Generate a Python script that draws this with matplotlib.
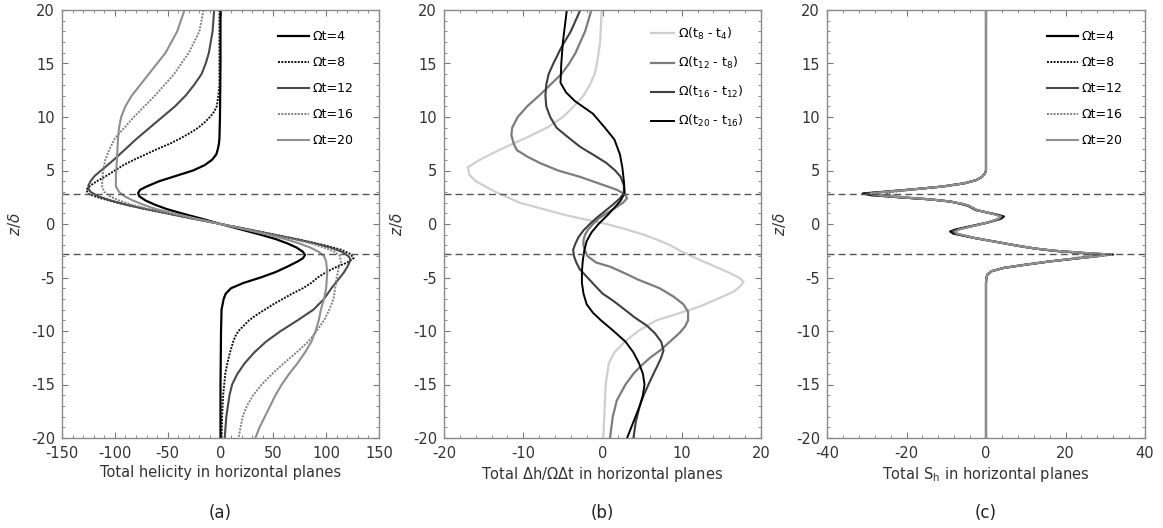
import matplotlib
matplotlib.use('Agg')
import matplotlib.pyplot as plt
from matplotlib.ticker import MultipleLocator

# ---------------- panel (a): total helicity ----------------
z_a4 = [20, 15, 10, 8, 7.5, 7, 6.5, 6, 5.5, 5, 4.5, 4, 3.5, 3.2, 2.9, 2.6, 2.2, 1.8, 1.4, 1.0, 0.5, 0,
        -0.5, -1.0, -1.4, -1.8, -2.2, -2.6, -2.9, -3.2, -3.5, -4, -4.5, -5, -5.5, -6, -6.5, -7, -7.5, -8, -10, -15, -20]
h_a4 = [0, 0, -0.5, -1, -1.5, -2.5, -4, -8, -15, -26, -42, -58, -70, -76, -78, -77, -71, -62, -51, -37, -18, 0,
        19, 38, 52, 63, 72, 78, 80, 78, 73, 63, 52, 38, 22, 10, 5, 3, 2, 1, 0.5, 0, 0]

z_a8 = [20, 16, 13, 12, 11, 10.5, 10, 9.5, 9, 8.5, 8, 7.5, 7, 6.5, 6, 5.5, 5, 4.5, 4, 3.6, 3.2, 2.8, 2.4, 2.0, 1.5, 1.0, 0.5, 0,
        -0.5, -1.0, -1.5, -2.0, -2.4, -2.8, -3.2, -3.6, -4, -4.5, -5, -5.5, -6, -6.5, -7, -7.5, -8, -8.5, -9, -9.5, -10,
        -10.5, -11, -12, -13, -14, -16, -18, -20]
h_a8 = [-1, -1, -1, -2, -3.5, -6, -10, -15, -21, -29, -38, -48, -60, -71, -82, -92, -100, -108, -117, -123, -127, -125, -113, -98, -76, -51, -26, 0,
        26, 51, 76, 99, 114, 123, 126, 120, 110, 100, 92, 86, 78, 68, 59, 50, 42, 34, 27, 22, 17,
        14, 12, 9, 6.5, 4.5, 2.5, 1.5, 1]

z_a12 = [20, 18, 16, 15, 14, 13, 12, 11, 10, 9, 8, 7, 6, 5, 4.5, 4, 3.6, 3.3, 3.0, 2.6, 2.2, 1.8, 1.4, 1.0, 0.5, 0,
         -0.5, -1.0, -1.4, -1.8, -2.2, -2.6, -3.0, -3.3, -3.6, -4, -4.5, -5, -6, -7, -8, -9, -10, -11, -12, -13, -14,
         -15, -16, -17, -18, -20]
h_a12 = [-6, -7.5, -11, -14, -18, -25, -33, -43, -55, -67, -79, -90, -101, -113, -119, -123, -125, -125, -123, -116, -104, -89, -71, -51, -26, 0,
         26, 51, 71, 89, 104, 115, 121, 123, 122, 120, 117, 113, 105, 98, 88, 73, 57, 43, 32, 23, 16,
         11, 8.5, 7, 5.5, 4]

z_a16 = [20, 18, 16, 14, 12, 10, 8, 7, 6, 5, 4, 3.5, 3.0, 2.6, 2.2, 1.8, 1.4, 1.0, 0.5, 0,
         -0.5, -1.0, -1.4, -1.8, -2.2, -2.6, -3.0, -3.5, -4, -5, -6, -7, -8, -9, -10, -11, -12, -13, -14, -15,
         -16, -17, -18, -20]
h_a16 = [-16, -20, -30, -44, -62, -82, -100, -105, -109, -111, -112, -112, -110, -105, -96, -84, -68, -49, -25, 0,
         25, 49, 68, 85, 98, 108, 113, 114, 112, 110, 108.5, 107, 103, 98, 91, 83, 72, 60, 49, 39,
         31, 25, 21, 17]

z_a20 = [20, 18, 16, 14, 13, 12, 11, 10, 9, 8, 6, 4.5, 3.5, 3.0, 2.6, 2.2, 1.8, 1.4, 1.0, 0.5, 0,
         -0.5, -1.0, -1.4, -1.8, -2.2, -2.6, -3.0, -3.5, -4.5, -6, -7, -8, -9, -10, -11, -12, -13, -14, -15,
         -16, -17, -18, -19, -20]
h_a20 = [-34, -41, -52, -68, -76, -84, -90, -94, -96, -97, -98, -99, -99, -96, -91, -83, -73, -61, -45, -23, 0,
         23, 45, 61, 74, 85, 93, 98, 100, 101, 100, 98, 95, 93, 90, 86, 80, 73, 65, 58,
         52, 47, 42, 37, 33]

# ---------------- panel (b): helicity change rate ----------------
z_b1 = [20, 17, 15, 14, 13, 12, 11, 10, 9, 8, 7, 6, 5.3, 4.6, 4.0, 3.0, 2.0, 1.3, 0.8, 0.4, 0,
        -0.5, -1.0, -1.5, -2.0, -2.5, -3.0, -3.5, -4.0, -4.5, -5.0, -5.4, -5.8, -6.3, -7.0, -7.7, -8.5, -9.0,
        -10, -11, -12, -13, -15, -20]
d_b1 = [-0.1, -0.3, -0.7, -1.0, -1.6, -2.4, -3.6, -5.0, -7.0, -9.8, -12.8, -15.5, -17.0, -16.8, -16.0, -13.5, -10.5, -7.0, -4.5, -2.0, 0.5,
        3.0, 5.2, 7.0, 8.6, 9.8, 11.2, 12.7, 14.3, 15.8, 17.2, 17.8, 17.4, 16.6, 14.5, 12.3, 9.0, 6.8,
        4.5, 2.8, 1.5, 0.8, 0.4, 0.1]

z_b2 = [20, 18, 16, 15, 14, 13, 12, 11, 10, 9, 8.3, 7.5, 6.9, 6.3, 5.7, 5, 4.4, 3.8, 3.2, 2.8, 2.4, 2.0, 1.5, 1.0, 0.5, 0,
        -0.5, -1.0, -1.5, -2.0, -2.5, -3.0, -3.6, -4.0, -4.6, -5.2, -6.0, -6.8, -7.5, -8.2, -9.0, -9.6, -10.2, -11,
        -11.8, -12.5, -13.3, -14, -15, -16.5, -18, -20]
d_b2 = [-1.4, -2.2, -3.4, -4.2, -5.2, -6.6, -8.0, -9.5, -10.7, -11.4, -11.5, -11.2, -10.8, -9.5, -7.9, -5.6, -2.8, -0.5, 1.8, 2.8, 3.1, 2.6, 1.6, 0.5, -0.5, -1.2,
        -1.8, -2.2, -2.4, -2.4, -2.2, -1.9, -0.8, 1.0, 2.8, 4.5, 7.2, 9.0, 10.2, 10.8, 10.8, 10.4, 9.7, 8.5,
        7.3, 6.0, 4.8, 3.9, 2.9, 1.8, 1.3, 0.95]

z_b3 = [20, 18, 16.5, 15, 14, 13, 12, 11, 10, 9, 8.2, 7.2, 6.4, 5.7, 5.0, 4.4, 3.6, 2.9, 2.4, 1.8, 1.2, 0.6, 0,
        -0.6, -1.2, -1.8, -2.4, -3.0, -3.6, -4.2, -5.0, -5.8, -6.5, -7.2, -8.0, -8.7, -9.5, -10.2, -11, -11.8,
        -12.5, -13.3, -14.2, -15, -16, -17, -18.5, -20]
d_b3 = [-2.8, -4.0, -5.2, -6.2, -6.8, -7.1, -7.2, -7.1, -6.6, -5.8, -4.5, -2.8, -1.0, 0.5, 1.6, 2.3, 2.7, 2.7, 2.2, 1.3, 0.3, -0.7, -1.6,
        -2.4, -3.0, -3.4, -3.7, -3.6, -3.3, -2.9, -1.9, -0.9, 0.0, 1.4, 2.8, 4.0, 5.6, 6.6, 7.4, 7.7,
        7.4, 6.9, 6.3, 5.8, 5.2, 4.7, 4.2, 3.9]

z_b4 = [20, 17, 15, 13.2, 12.3, 11.5, 10.3, 9, 7.9, 6.5, 5.3, 4, 2.9, 2.2, 1.6, 0.8, 0,
        -0.8, -1.6, -2.5, -3.5, -4.5, -5.5, -6.5, -7.5, -8.3, -9.0, -10, -11, -12, -13, -14, -15, -16, -17,
        -18.5, -20]
d_b4 = [-4.5, -5.0, -5.2, -5.3, -4.6, -3.5, -1.2, 0.3, 1.5, 2.2, 2.5, 2.7, 2.8, 2.3, 1.6, 0.6, -0.5,
        -1.4, -2.0, -2.3, -2.5, -2.6, -2.6, -2.4, -2.0, -1.2, -0.2, 1.4, 2.9, 3.9, 4.6, 5.1, 5.3, 5.1, 4.7,
        3.9, 3.1]

# ---------------- panel (c): total S_h ----------------
z_c = [20, 10, 5.5, 5.0, 4.7, 4.4, 4.1, 3.8, 3.5, 3.25, 3.0, 2.85, 2.7, 2.5, 2.3, 2.1, 1.9, 1.7, 1.5, 1.3, 1.1,
       0.9, 0.7, 0.5, 0.3, 0.1, -0.1, -0.3, -0.5, -0.7, -0.9, -1.1, -1.3, -1.5, -1.7, -1.9, -2.1, -2.3, -2.5,
       -2.7, -2.85, -3.0, -3.25, -3.5, -3.8, -4.1, -4.4, -4.7, -5.0, -5.5, -10, -20]
s_c4 = [0, 0, 0, 0, -0.3, -1.0, -2.5, -5.5, -11, -18, -26, -31, -29, -22, -14, -9, -6.5, -4.5, -3.5, -2.5, 0.0,
        2.5, 4.5, 3.8, 2.0, 0.0, -2.5, -5.0, -7.5, -9.0, -8.2, -5.5, -3.0, 0.0, 3.0, 6.0, 9.0, 12.5, 17,
        24, 30, 28, 22, 16, 10, 4.5, 1.5, 0.4, 0.1, 0, 0, 0]
s_c8 = [0, 0, 0, 0, -0.3, -1.0, -2.5, -5.5, -11, -18, -26, -30.5, -28.5, -22, -14, -9, -6.3, -4.4, -3.4, -2.4, 0.0,
        2.4, 4.2, 3.6, 1.9, 0.0, -2.4, -4.8, -7.2, -8.6, -7.9, -5.4, -3.0, 0.0, 3.0, 6.0, 9.0, 12.5, 17.5,
        25, 32, 28.5, 22, 16, 10, 4.5, 1.5, 0.4, 0.1, 0, 0, 0]
s_c12 = [0, 0, 0, 0, -0.3, -1.0, -2.5, -5.5, -11, -18, -25.5, -30, -28, -21.5, -14, -9, -6.2, -4.3, -3.3, -2.3, 0.0,
         2.3, 4.0, 3.4, 1.8, 0.0, -2.3, -4.6, -7.0, -8.3, -7.7, -5.3, -3.0, 0.0, 3.0, 6.0, 9.0, 12.5, 17,
         24, 31, 28, 22, 16, 10, 4.5, 1.5, 0.4, 0.1, 0, 0, 0]
s_c16 = [0, 0, 0, 0, -0.3, -1.0, -2.5, -5.5, -11, -17.5, -23, -25, -24, -20, -13.5, -8.8, -6.0, -4.2, -3.2, -2.2, 0.0,
         2.2, 3.7, 3.2, 1.7, 0.0, -2.2, -4.4, -6.6, -7.8, -7.3, -5.1, -2.9, 0.0, 3.0, 6.0, 9.0, 12.5, 17,
         22.5, 26, 25, 21, 16, 10, 4.5, 1.5, 0.4, 0.1, 0, 0, 0]
s_c20 = [0, 0, 0, 0, -0.3, -1.0, -2.5, -5.5, -11, -18, -25.5, -29, -27.5, -21.5, -14, -9, -6.0, -4.2, -3.2, -2.2, 0.0,
         2.2, 3.6, 3.1, 1.7, 0.0, -2.2, -4.4, -6.6, -7.7, -7.2, -5.0, -2.9, 0.0, 3.0, 6.0, 9.0, 12.5, 17.5,
         25, 31.5, 28.5, 22, 16, 10, 4.5, 1.5, 0.4, 0.1, 0, 0, 0]

labels_t = ['\u03a9t=4', '\u03a9t=8', '\u03a9t=12', '\u03a9t=16', '\u03a9t=20']
labels_b = ['\u03a9(t$_{8}$ - t$_{4}$)', '\u03a9(t$_{12}$ - t$_{8}$)',
            '\u03a9(t$_{16}$ - t$_{12}$)', '\u03a9(t$_{20}$ - t$_{16}$)']
dash_z = [2.85, -2.85]

# line styles for the five times (black, black dotted, dark grey, grey dotted, grey)
sty_t = [dict(color='black', lw=1.6, ls='-'),
         dict(color='#111111', lw=1.4, ls=(0, (1, 0.7))),
         dict(color='#4a4a4a', lw=1.5, ls='-'),
         dict(color='#808080', lw=1.4, ls=(0, (1, 0.7))),
         dict(color='#8f8f8f', lw=1.5, ls='-')]
sty_b = [dict(color='#cfcfcf', lw=1.6), dict(color='#7c7c7c', lw=1.6),
         dict(color='#3f3f3f', lw=1.5), dict(color='black', lw=1.4)]

plt.rcParams['font.family'] = 'DejaVu Sans'
plt.rcParams['axes.unicode_minus'] = False
fig = plt.figure(figsize=(11.63, 5.28), dpi=100)
W, H = 1163, 528
boxes = [(62, 379), (444, 761), (827, 1145)]
axs = [fig.add_axes([l / W, 1 - 438 / H, (r - l) / W, 428 / H]) for l, r in boxes]


def style(ax, xlim, xmaj, xmin, xlabel):
    ax.set_xlim(*xlim)
    ax.set_ylim(-20, 20)
    ax.xaxis.set_major_locator(MultipleLocator(xmaj))
    ax.xaxis.set_minor_locator(MultipleLocator(xmin))
    ax.yaxis.set_major_locator(MultipleLocator(5))
    ax.yaxis.set_minor_locator(MultipleLocator(1))
    ax.tick_params(which='both', direction='in', top=True, right=True, colors='#777777',
                   labelcolor='#333333', labelsize=10.5)
    ax.tick_params(which='major', length=4)
    ax.tick_params(which='minor', length=2)
    ax.tick_params(axis='x', pad=6)
    ax.tick_params(axis='y', pad=5)
    for s in ax.spines.values():
        s.set_color('#8a8a8a')
        s.set_linewidth(1.0)
    ax.set_xlabel(xlabel, fontsize=10.5, color='#333333', labelpad=3)
    ax.set_ylabel(r'$z/\delta$', fontsize=11, color='#333333', labelpad=6)
    for zd in dash_z:
        ax.axhline(zd, color='#555555', lw=1.0, ls=(0, (5, 3)))


leg_kw = dict(loc='upper right', frameon=False, fontsize=9, labelspacing=1.05,
              handletextpad=0.25, borderaxespad=0)

# (a)
ax = axs[0]
for zz, hh, lab, st in zip([z_a4, z_a8, z_a12, z_a16, z_a20], [h_a4, h_a8, h_a12, h_a16, h_a20], labels_t, sty_t):
    ax.plot(hh, zz, label=lab, **st)
style(ax, (-150, 150), 50, 10, 'Total helicity in horizontal planes')
ax.legend(bbox_to_anchor=(0.935, 0.965), handlelength=2.5, **leg_kw)

# (b)
ax = axs[1]
for zz, dd, lab, st in zip([z_b1, z_b2, z_b3, z_b4], [d_b1, d_b2, d_b3, d_b4], labels_b, sty_b):
    ax.plot(dd, zz, label=lab, **st)
style(ax, (-20, 20), 10, 2, r'Total $\Delta$h/$\Omega\Delta$t in horizontal planes')
ax.legend(bbox_to_anchor=(0.96, 0.975), handlelength=1.9, **leg_kw)

# (c)
ax = axs[2]
for ss, lab, st in zip([s_c4, s_c8, s_c12, s_c16, s_c20], labels_t, sty_t):
    ax.plot(ss, z_c, label=lab, **st)
style(ax, (-40, 40), 20, 4, 'Total S$_\\mathregular{h}$ in horizontal planes')
ax.legend(bbox_to_anchor=(0.945, 0.965), handlelength=2.5, **leg_kw)

for (l, r), tag in zip(boxes, ['(a)', '(b)', '(c)']):
    fig.text((l + r) / 2 / W, 1 - 513 / H, tag, ha='center', va='center', fontsize=12, color='#222222')

fig.savefig('out.png', dpi=100)
